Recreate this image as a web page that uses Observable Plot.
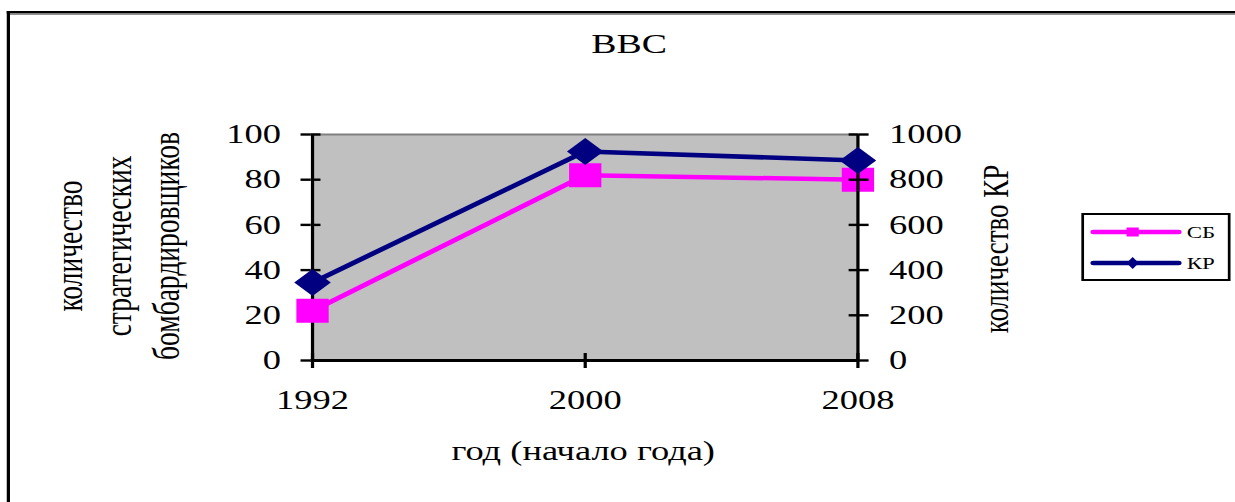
<!DOCTYPE html>
<html>
<head>
<meta charset="utf-8">
<script src="https://cdn.jsdelivr.net/npm/d3@7"></script>
<script src="https://cdn.jsdelivr.net/npm/@observablehq/plot@0.6"></script>
<style>
  html, body { margin: 0; padding: 0; background: #fff; overflow: hidden; }
  #wrap { position: relative; width: 1235px; height: 502px; overflow: hidden; background: #fff; }
  #chart { position: absolute; left: 0; top: 0; width: 915px; transform: scaleX(1.35); transform-origin: 0 0; }
</style>
</head>
<body>
<div id="wrap"><div id="chart"></div></div>
<script>
// ---- data ----
const years = ["1992", "2000", "2008"];
const sb = [22, 82, 80];          // стратегические бомбардировщики (левая ось)
const kr = [345, 925, 885];       // КР (правая ось)
const leftTicks = [0, 20, 40, 60, 80, 100];
const rightTicks = [0, 200, 400, 600, 800, 1000];
const seriesNames = ["СБ", "КР"];
const titleText = "ВВС";
const leftLabelLines = ["количество", "стратегических", "бомбардировщиков"];
const rightLabel = "количество КР";
const xLabel = "год (начало года)";

const ratio = rightTicks[rightTicks.length - 1] / leftTicks[leftTicks.length - 1];
const data = years.map((y, i) => ({year: y, sb: sb[i], kr: kr[i]}));

const font = "'Liberation Serif','Times New Roman',Times,serif";
const magenta = "#ff00ff", navy = "#000080";

const plot = Plot.plot({
  width: 915,
  height: 502,
  marginLeft: 230,
  marginRight: 280,
  marginTop: 134,
  marginBottom: 142,
  style: {fontFamily: font, fontSize: "27px", color: "#000", background: "transparent", maxWidth: "none", overflow: "visible"},
  x: {type: "point", domain: years, padding: 0, label: null},
  y: {domain: [0, 100], label: null},
  marks: [
    Plot.frame({fill: "#c0c0c0", stroke: "none"}),
    Plot.ruleY([100], {stroke: "#808080", strokeWidth: 2}),
    // left axis
    Plot.ruleX([years[0]], {stroke: "#000", strokeWidth: 2.4}),
    Plot.axisY({ticks: leftTicks, anchor: "left", tickSize: 7.4, tickPadding: 15, strokeWidth: 2.4, fontSize: 27, label: null}),
    Plot.axisY({ticks: leftTicks, anchor: "left", tickSize: 7.4, dx: 7.4, strokeWidth: 2.4, fill: "none", tickFormat: () => "", label: null}),
    // bottom axis
    Plot.ruleY([0], {stroke: "#000", strokeWidth: 3}),
    Plot.axisX({anchor: "bottom", tickSize: 8, tickPadding: 21, strokeWidth: 2.4, fontSize: 27, label: null}),
    Plot.axisX({anchor: "bottom", tickSize: 7, dy: -7, strokeWidth: 2.4, fill: "none", tickFormat: () => "", label: null}),
    // series
    Plot.line(data, {x: "year", y: "sb", stroke: magenta, strokeWidth: 4.5}),
    Plot.line(data, {x: "year", y: d => d.kr / ratio, stroke: navy, strokeWidth: 4.5}),
    Plot.dot(data, {x: "year", y: "sb", symbol: "square", r: 13.5, fill: magenta, stroke: "none"}),
    // right axis
    Plot.ruleX([years[years.length - 1]], {stroke: "#000", strokeWidth: 2.4}),
    Plot.axisY({ticks: rightTicks.map(v => v / ratio), anchor: "right", tickSize: 7.4, tickPadding: 15.6, strokeWidth: 2.4, fontSize: 27, tickFormat: d => String(Math.round(d * ratio)), label: null}),
    Plot.axisY({ticks: rightTicks.map(v => v / ratio), anchor: "right", tickSize: 7.4, dx: -7.4, strokeWidth: 2.4, fill: "none", tickFormat: () => "", label: null}),
    Plot.dot(data, {x: "year", y: d => d.kr / ratio, symbol: "diamond2", r: 12.2, fill: navy, stroke: "none"})
  ]
});

document.getElementById("chart").appendChild(plot);

// ---- decorations: frame, title, axis titles, legend ----
const svg = d3.select(plot);
const deco = svg.append("g").attr("font-family", font).attr("fill", "#000").attr("text-anchor", "start");

// outer chart border (top + left visible)
deco.append("line").attr("x1", 5).attr("x2", 915).attr("y1", 12.3).attr("y2", 12.3).attr("stroke", "#000").attr("stroke-width", 2.6);
deco.append("line").attr("x1", 7).attr("x2", 915).attr("y1", 14.4).attr("y2", 14.4).attr("stroke", "#909090").attr("stroke-width", 1.4);
deco.append("line").attr("x1", 6.2).attr("x2", 6.2).attr("y1", 11).attr("y2", 502).attr("stroke", "#000").attr("stroke-width", 2.4);

// title
deco.append("text").attr("x", 466).attr("y", 53).attr("text-anchor", "middle").attr("font-size", 28).text(titleText);

// left axis title (three rotated lines)
const leftXs = [54, 90.4, 126];
leftLabelLines.forEach((t, i) => {
  deco.append("text")
    .attr("transform", `translate(${leftXs[i]},246) rotate(-90)`)
    .attr("text-anchor", "middle").attr("dy", "0.24em").attr("font-size", 27.5).text(t);
});

// right axis title
deco.append("text")
  .attr("transform", "translate(740,249) rotate(-90)")
  .attr("text-anchor", "middle").attr("dy", "0.24em").attr("font-size", 27).text(rightLabel);

// x axis title
deco.append("text").attr("x", 432).attr("y", 460).attr("text-anchor", "middle").attr("font-size", 27).text(xLabel);

// legend
const lg = deco.append("g");
lg.append("rect").attr("x", 802).attr("y", 214).attr("width", 108.5).attr("height", 66)
  .attr("fill", "#fff").attr("stroke", "#000").attr("stroke-width", 2);
const legendRows = [
  {name: seriesNames[0], color: magenta, y: 232, shape: "square"},
  {name: seriesNames[1], color: navy, y: 263, shape: "diamond"}
];
legendRows.forEach(r => {
  lg.append("line").attr("x1", 810).attr("x2", 873).attr("y1", r.y).attr("y2", r.y)
    .attr("stroke", r.color).attr("stroke-width", 4.5).attr("stroke-linecap", "round");
  if (r.shape === "square") {
    lg.append("rect").attr("x", 839 - 4.5).attr("y", r.y - 4.5).attr("width", 9).attr("height", 9).attr("fill", r.color);
  } else {
    lg.append("path").attr("d", `M839,${r.y - 6}L843.5,${r.y}L839,${r.y + 6}L834.5,${r.y}Z`).attr("fill", r.color);
  }
  lg.append("text").attr("x", 879).attr("y", r.y + 6).attr("text-anchor", "start").attr("font-size", 17).text(r.name);
});
</script>
</body>
</html>
